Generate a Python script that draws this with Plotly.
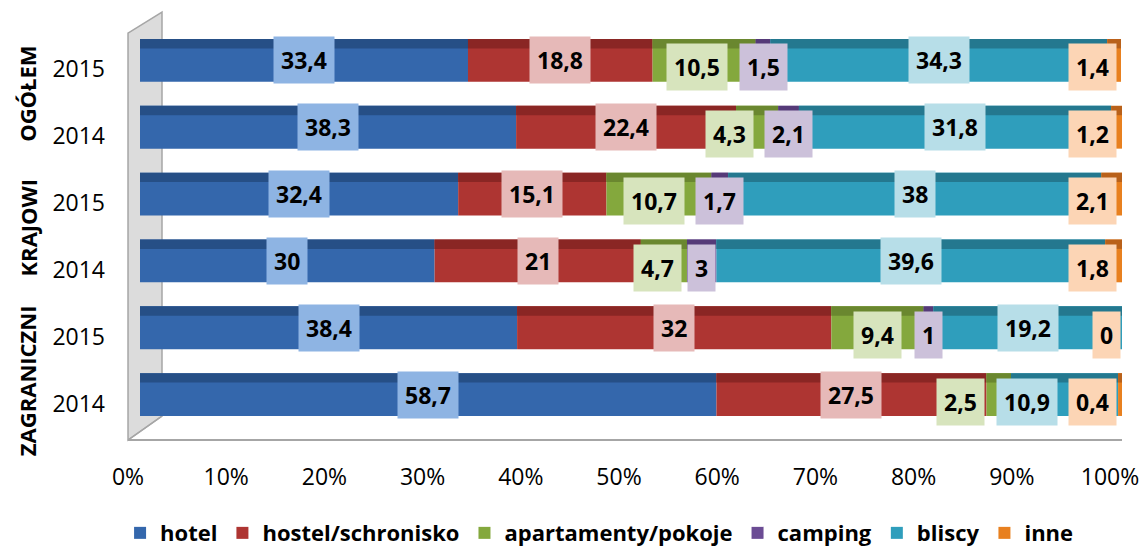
import plotly.graph_objects as go

groups = ["OGÓŁEM", "OGÓŁEM", "KRAJOWI", "KRAJOWI", "ZAGRANICZNI", "ZAGRANICZNI"]
years = ["2015", "2014", "2015", "2014", "2015", "2014"]
series_names = ["hotel", "hostel/schronisko", "apartamenty/pokoje", "camping", "bliscy", "inne"]
hotel = [33.4, 38.3, 32.4, 30, 38.4, 58.7]
hostel = [18.8, 22.4, 15.1, 21, 32, 27.5]
apartamenty = [10.5, 4.3, 10.7, 4.7, 9.4, 2.5]
camping = [1.5, 2.1, 1.7, 3, 1, None]
bliscy = [34.3, 31.8, 38, 39.6, 19.2, 10.9]
inne = [1.4, 1.2, 2.1, 1.8, 0, 0.4]
x_ticks = [0, 10, 20, 30, 40, 50, 60, 70, 80, 90, 100]

series_values = [hotel, hostel, apartamenty, camping, bliscy, inne]
main_colors = ["#3467AC", "#AE3532", "#84A83D", "#6B4C94", "#2F9EBC", "#E8801F"]
top_colors = ["#264F86", "#8A2624", "#6A872F", "#553A78", "#24788F", "#B9611A"]
label_bg = ["#8EB4E3", "#E6B9B8", "#D7E4BD", "#CCC1DA", "#B7DEE8", "#FCD5B5"]

FONT = "Open Sans"
LABEL_SIZE = 23
keys = [f"{g} {y}" for g, y in zip(groups, years)]

L, R, T, B = 140, 24, 27, 118
W, H = 1146, 546
pw, ph = W - L - R, H - T - B
units_per_px = 100.0 / pw

fig = go.Figure()
annotations = []
cum = [0.0] * len(keys)
row_labels = [[] for _ in keys]
for s, (name, vals, c_main, c_top, c_lab) in enumerate(
        zip(series_names, series_values, main_colors, top_colors, label_bg)):
    base = list(cum)
    fig.add_trace(go.Bar(
        name=name, y=keys, x=vals, base=base, orientation="h",
        marker=dict(color=c_main, line=dict(width=0)), width=0.64,
        hoverinfo="skip",
    ))
    fig.add_trace(go.Bar(
        name=name, y=keys, x=vals, base=base, orientation="h",
        marker=dict(color=c_top, line=dict(width=0)), width=0.14, offset=-0.32,
        showlegend=False, hoverinfo="skip",
    ))
    for i, v in enumerate(vals):
        if v is None:
            continue
        txt = ("%g" % v).replace(".", ",")
        row_labels[i].append(dict(mid=base[i] + v / 2, txt=txt, v=v, bg=c_lab))
    cum = [c + (v or 0) for c, v in zip(cum, vals)]

# place labels, avoiding overlaps (right to left, clamped at 100%)
for i, labs in enumerate(row_labels):
    limit = 100.0
    for lab in reversed(labs):
        half = (len(lab["txt"]) * 0.62 * LABEL_SIZE + 16) / 2 * units_per_px
        cx = min(lab["mid"], limit - half)
        limit = cx - half
        annotations.append(dict(
            x=cx, y=keys[i], xref="x", yref="y",
            text=f"<b>{lab['txt']}</b>", showarrow=False,
            xanchor="center", yanchor="middle",
            yshift=-7 if lab["v"] < 12 else 0,
            bgcolor=lab["bg"], borderpad=7,
            font=dict(family=FONT, size=LABEL_SIZE, color="black"),
        ))

# group labels (rotated)
seen = []
for g in groups:
    if g not in seen:
        seen.append(g)
for g in seen:
    idx = [i for i, gg in enumerate(groups) if gg == g]
    annotations.append(dict(
        x=0, xref="paper", xshift=-113, y=sum(idx) / len(idx), yref="y",
        yshift=-20 if len(g) > 8 else 0,
        text=f"<b>{g}</b>", textangle=-90, showarrow=False,
        xanchor="center", yanchor="middle",
        font=dict(family=FONT, size=22, color="black"),
    ))


def px(xp, yp):
    return (xp - L) / pw, (H - B - yp) / ph


wall = [px(128, 33), px(162, 12), px(162, 416), px(128, 440)]
path = "M " + " L ".join(f"{a:.4f},{b:.4f}" for a, b in wall) + " Z"
f0, f1 = px(128, 440), px(1122, 440)
d0, d1 = px(128, 440), px(162, 416)
shapes = [
    dict(type="path", path=path, xref="paper", yref="paper",
         fillcolor="#DCDCDC", line=dict(color="#A6A6A6", width=1.5), layer="below"),
    dict(type="line", x0=f0[0], y0=f0[1], x1=f1[0], y1=f1[1], xref="paper", yref="paper",
         line=dict(color="#A6A6A6", width=2), layer="below"),
    dict(type="line", x0=d0[0], y0=d0[1], x1=d1[0], y1=d1[1], xref="paper", yref="paper",
         line=dict(color="#A6A6A6", width=1.5), layer="below"),
]

fig.update_layout(
    width=W, height=H,
    barmode="overlay",
    margin=dict(l=L, r=R, t=T, b=B, autoexpand=False),
    paper_bgcolor="white", plot_bgcolor="rgba(0,0,0,0)",
    font=dict(family=FONT, color="black"),
    xaxis=dict(range=[0, 100], tickvals=x_ticks, ticktext=[f"{t}%" for t in x_ticks],
               showgrid=False, zeroline=False, showline=False, ticks="", automargin=False,
               tickfont=dict(family=FONT, size=23, color="black"),
               ticklabelstandoff=33, ticklabelshift=-12, fixedrange=True),
    yaxis=dict(type="category", categoryorder="array", categoryarray=keys,
               tickvals=keys, ticktext=years, autorange="reversed", automargin=False,
               showgrid=False, zeroline=False, showline=False, ticks="",
               tickfont=dict(family=FONT, size=23, color="black"),
               ticklabelstandoff=34, ticklabelshift=-9, fixedrange=True),
    legend=dict(orientation="h", x=0.468, xanchor="center", y=-0.262, yanchor="middle",
                font=dict(family=FONT, size=22, color="black", weight="bold"),
                itemwidth=30, traceorder="normal", bgcolor="rgba(0,0,0,0)"),
    annotations=annotations,
    shapes=shapes,
    showlegend=True,
)

fig.write_html("out.html", post_script="document.body.style.margin='0px';",
               config={"displayModeBar": False})
